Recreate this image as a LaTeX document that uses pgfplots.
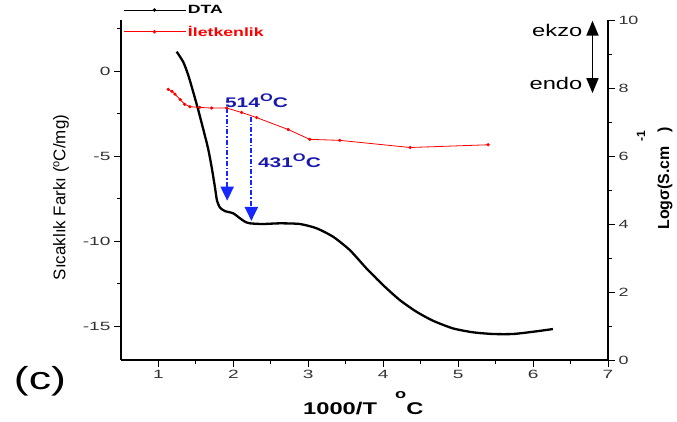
\documentclass[border=0pt]{standalone}
\usepackage{graphicx}
\usepackage{pgfplots}
\pgfplotsset{compat=1.18}
\usepackage{fontspec}
\setmainfont{Liberation Sans}
\usetikzlibrary{arrows.meta}
\newcommand{\fs}[1]{\fontsize{#1}{#1}\selectfont}
\definecolor{navy}{RGB}{25,25,175}
\definecolor{arrowblue}{RGB}{20,40,255}

\pgfplotstableread{
x y
1.243 1.135
1.331 0.53
1.397 -0.235
1.464 -1.235
1.531 -2.294
1.597 -3.41
1.664 -4.59
1.709 -5.63
1.753 -6.81
1.780 -7.59
1.820 -8.03
1.887 -8.24
1.997 -8.37
2.087 -8.66
2.153 -8.86
2.220 -8.96
2.393 -9.00
2.620 -8.96
2.887 -9.00
3.109 -9.25
3.331 -9.75
3.553 -10.53
3.776 -11.61
3.997 -12.59
4.220 -13.47
4.443 -14.16
4.664 -14.69
4.931 -15.14
5.197 -15.37
5.464 -15.47
5.731 -15.47
5.997 -15.34
6.264 -15.18
}\dta

\pgfplotstableread{
x y
1.13 7.96
1.18 7.90
1.22 7.82
1.29 7.66
1.35 7.52
1.42 7.45
1.55 7.43
1.71 7.41
1.91 7.41
2.11 7.28
2.31 7.13
2.73 6.78
3.02 6.49
3.42 6.46
4.36 6.25
5.40 6.33
}\iletken

\pgfplotsset{
  base/.style={
    scale only axis, width=487bp, height=340bp,
    at={(0,0)}, anchor=south west,
    xmin=0.5, xmax=7,
    tick align=outside,
    axis line style={line width=1.1pt, -},
    major tick length=7bp, minor tick length=4bp,
    every tick/.style={line width=0.9pt, black},
    /pgf/number format/assume math mode=true,
    tick label style={text=black!80},
    clip=false,
  }
}

\begin{document}
\begin{tikzpicture}
\begin{axis}[base,
  axis x line*=bottom, axis y line*=left,
  ymin=-17, ymax=3,
  ytick={-15,-10,-5,0}, minor ytick={-12.5,-7.5,-2.5,2.5},
  xtick={1,2,3,4,5,6,7}, minor xtick={1.5,2.5,3.5,4.5,5.5,6.5},
  xticklabel={\scalebox{1.6}[1]{\fs{12}\pgfmathprintnumber{\tick}}},
  yticklabel={\scalebox{1.6}[1]{\fs{12}\pgfmathprintnumber{\tick}}},
]
\addplot[black, line width=2.3bp, smooth, tension=0.4] table[x=x,y=y] {\dta};

% arrows
\draw[arrowblue, line width=2bp, dash pattern=on 5bp off 2bp on 1.5bp off 2bp, -{Triangle[width=13bp,length=14bp]}]
  (axis cs:1.917,-2.18) -- (axis cs:1.917,-7.63);
\draw[arrowblue, line width=2bp, dash pattern=on 5bp off 2bp on 1.5bp off 2bp, -{Triangle[width=13bp,length=14bp]}]
  (axis cs:2.240,-2.70) -- (axis cs:2.240,-8.82);
\node[anchor=west, text=navy, inner sep=0pt] at (axis cs:1.887,-1.76)
  {\scalebox{1.5}[1]{\fs{14}\bfseries 514\raisebox{6bp}{\fs{11}O}C}};
\node[anchor=west, text=navy, inner sep=0pt] at (axis cs:2.327,-5.30)
  {\scalebox{1.5}[1]{\fs{14}\bfseries 431\raisebox{6bp}{\fs{11}O}C}};

% labels
\node[rotate=90, inner sep=0pt] at (rel axis cs:-0.123,0.478)
  {\fs{17}Sıcaklık Farkı (\raisebox{6bp}{\fs{11}o}C/mg)};
\node[rotate=90, anchor=base, inner sep=0pt] at (rel axis cs:1.1253,0.534)
  {\fs{16}\bfseries Logσ(S.cm\hspace{5bp}\raisebox{24bp}{\fs{12}-1}\hspace{-2bp})};
\node[anchor=base west, inner sep=0pt] at (rel axis cs:0.3737,-0.159)
  {\scalebox{1.4}[1]{\fs{17}\bfseries 1000/T\hspace{13bp}\raisebox{16bp}{\fs{13}o}C}};
\node[inner sep=0pt] at (rel axis cs:-0.1663,-0.0618)
  {\scalebox{1.4}[1]{\fs{32}(c)}};

\coordinate (bbsw) at (rel axis cs:-0.24846,-0.17941);
\coordinate (bbne) at (rel axis cs:1.14168,1.05882);
\end{axis}

\begin{axis}[base,
  axis x line=none, axis y line*=right,
  ymin=0, ymax=10,
  ytick={0,2,4,6,8,10}, minor ytick={1,3,5,7,9},
  yticklabel={\scalebox{1.5}[1]{\fs{12}\pgfmathprintnumber{\tick}}},
  legend style={at={(0.004,1.05)}, anchor=north west, draw=none, fill=none,
    inner sep=0pt, row sep=7bp, font=\fs{12}\bfseries,
    nodes={inner sep=2bp}},
  legend cell align=left,
  legend image code/.code={
    \draw[#1,mark=none] (0bp,0bp) -- (62bp,0bp);
    \fill[#1] (31bp,0bp) circle (1.3bp);},
]
\addlegendimage{black, line width=0.8bp}
\addlegendentry{\scalebox{1.48}[1]{DTA}}
\addplot[red, line width=0.8bp, mark=*, mark size=1.2bp] table[x=x,y=y] {\iletken};
\addlegendentry{\textcolor{red}{\scalebox{1.48}[1]{İletkenlik}}}

% ekzo / endo
\draw[black, line width=1.8bp, {Triangle[width=12bp,length=15bp]}-{Triangle[width=12bp,length=15bp]}]
  (axis cs:6.793,9.98) -- (axis cs:6.793,7.85);
\node[anchor=east, inner sep=0pt] at (axis cs:6.66,9.70) {\scalebox{1.4}[1]{\fs{17}ekzo}};
\node[anchor=east, inner sep=0pt] at (axis cs:6.66,8.14) {\scalebox{1.4}[1]{\fs{17}endo}};
\end{axis}
\pgfresetboundingbox
\path[use as bounding box] (bbsw) rectangle (bbne);
\end{tikzpicture}
\end{document}
